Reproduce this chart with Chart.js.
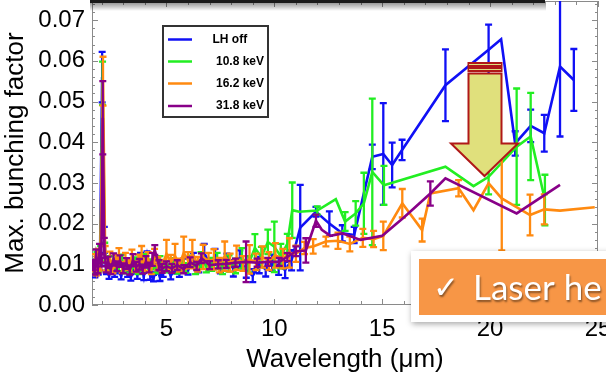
<!DOCTYPE html>
<html><head><meta charset="utf-8">
<script src="https://cdn.jsdelivr.net/npm/chart.js@4.4.1/dist/chart.umd.min.js"></script>
<style>html,body{margin:0;padding:0;background:#fff;}#wrap{width:606px;height:378px;position:relative;}</style>
</head><body><div id="wrap"><canvas id="c" width="606" height="378"></canvas></div>
<script>
// ---------------- data ----------------
const seriesLabels = ['LH off', '10.8 keV', '16.2 keV', '31.8 keV'];
const seriesColors = ['#1010f5', '#22ee22', '#ff8a10', '#880088'];

const blueX = [1.60,1.68,1.76,1.84,1.92,2.02,2.12,2.22,2.34,2.46,2.60,2.75,2.90,3.05,3.20,3.35,3.50,3.65,3.80,3.95,4.10,4.25,4.40,4.55,4.70,4.85,5.00,5.20,5.40,5.60,5.80,6.00,6.25,6.50,6.75,7.00,7.25,7.50,7.80,8.10,8.40,8.70,9.00,9.30,9.60,9.90,10.20,10.50,10.80,11.20,11.93,12.55,13.15,13.70,14.54,15.05,15.46,15.92,17.93,19.93,20.51,21.16,21.88,22.51,23.24,23.88];
const blueY = [0.0092,0.0078,0.0100,0.0084,0.0112,0.0560,0.0160,0.0086,0.0072,0.0096,0.0078,0.0090,0.0071,0.0094,0.0080,0.0068,0.0087,0.0074,0.0108,0.0070,0.0120,0.0072,0.0066,0.0090,0.0068,0.0079,0.0096,0.0072,0.0088,0.0081,0.0099,0.0085,0.0110,0.0092,0.0128,0.0100,0.0118,0.0094,0.0108,0.0090,0.0112,0.0085,0.0072,0.0098,0.0088,0.0104,0.0096,0.0086,0.0110,0.0190,0.0229,0.0200,0.0176,0.0172,0.0364,0.0371,0.0344,0.0381,0.0540,0.0627,0.0653,0.0397,0.0440,0.0422,0.0586,0.0553];
const blueErr = [0.0008,0.0010,0.0012,0.0009,0.0015,0.0062,0.0032,0.0010,0.0008,0.0011,0.0009,0.0012,0.0008,0.0010,0.0011,0.0008,0.0009,0.0010,0.0020,0.0009,0.0012,0.0010,0.0008,0.0011,0.0009,0.0010,0.0012,0.0009,0.0010,0.0012,0.0015,0.0010,0.0018,0.0012,0.0022,0.0015,0.0020,0.0016,0.0018,0.0020,0.0022,0.0018,0.0016,0.0020,0.0018,0.0020,0.0022,0.0020,0.0025,0.0105,0.0012,0.0030,0.0020,0.0020,0.0030,0.0125,0.0055,0.0025,0.0088,0.0062,0,0.0030,0.0040,0.0045,0.0172,0.0076];

const greenX = [1.62,1.70,1.78,1.86,1.95,2.04,2.14,2.24,2.36,2.50,2.65,2.80,2.95,3.10,3.25,3.40,3.55,3.70,3.85,4.00,4.15,4.30,4.50,4.70,4.90,5.10,5.30,5.50,5.70,5.90,6.10,6.35,6.60,6.85,7.10,7.35,7.60,7.90,8.20,8.50,8.80,9.10,9.40,9.70,10.00,10.30,10.60,10.83,11.15,11.99,12.85,13.28,13.77,14.15,14.54,15.08,17.93,19.23,19.93,21.23,21.88,22.54];
const greenY = [0.0100,0.0088,0.0115,0.0092,0.0125,0.0545,0.0130,0.0095,0.0108,0.0090,0.0102,0.0093,0.0110,0.0088,0.0098,0.0091,0.0104,0.0086,0.0096,0.0110,0.0092,0.0100,0.0088,0.0106,0.0094,0.0090,0.0102,0.0088,0.0096,0.0091,0.0106,0.0090,0.0112,0.0095,0.0100,0.0108,0.0094,0.0102,0.0096,0.0115,0.0100,0.0140,0.0118,0.0155,0.0143,0.0120,0.0150,0.0233,0.0229,0.0232,0.0260,0.0205,0.0225,0.0250,0.0327,0.0294,0.0340,0.0292,0.0315,0.0389,0.0414,0.0258];
const greenErr = [0.0010,0.0012,0.0015,0.0010,0.0020,0.0053,0.0023,0.0010,0.0012,0.0010,0.0012,0.0010,0.0014,0.0010,0.0012,0.0010,0.0013,0.0010,0.0012,0.0015,0.0010,0.0012,0.0010,0.0014,0.0012,0.0010,0.0013,0.0011,0.0012,0.0012,0.0015,0.0014,0.0018,0.0015,0.0016,0.0020,0.0018,0.0020,0.0018,0.0025,0.0020,0.0034,0.0025,0.0030,0.0062,0.0030,0.0025,0.0068,0,0.0010,0,0.0023,0.0030,0.0075,0.0180,0.0048,0,0,0.0043,0.0143,0.0107,0.0062];

const orangeX = [1.60,1.68,1.76,1.84,1.93,2.06,2.16,2.26,2.38,2.52,2.66,2.80,2.95,3.10,3.25,3.40,3.55,3.70,3.85,4.00,4.15,4.30,4.45,4.60,4.80,5.00,5.20,5.40,5.60,5.80,6.00,6.20,6.45,6.70,6.95,7.20,7.45,7.70,7.95,8.25,8.55,8.85,9.15,9.45,9.75,10.05,10.40,10.70,11.00,11.40,11.80,12.39,12.95,13.50,14.10,14.60,15.05,15.93,16.85,17.23,18.54,19.23,19.93,20.54,21.85,22.51,23.24,24.85];
const orangeY = [0.0095,0.0110,0.0085,0.0120,0.0100,0.0550,0.0125,0.0098,0.0115,0.0090,0.0108,0.0122,0.0092,0.0112,0.0100,0.0118,0.0094,0.0108,0.0125,0.0098,0.0112,0.0090,0.0118,0.0102,0.0096,0.0126,0.0105,0.0120,0.0098,0.0128,0.0110,0.0125,0.0100,0.0118,0.0108,0.0112,0.0098,0.0120,0.0104,0.0116,0.0102,0.0112,0.0106,0.0118,0.0108,0.0122,0.0114,0.0128,0.0126,0.0140,0.0144,0.0156,0.0158,0.0150,0.0165,0.0162,0.0170,0.0250,0.0184,0.0274,0.0287,0.0233,0.0299,0.0262,0.0221,0.0235,0.0232,0.0240];
const orangeErr = [0.0012,0.0015,0.0012,0.0018,0.0015,0.0060,0.0020,0.0014,0.0016,0.0012,0.0015,0.0018,0.0013,0.0016,0.0014,0.0018,0.0013,0.0016,0.0020,0.0014,0.0018,0.0014,0.0020,0.0016,0.0015,0.0034,0.0018,0.0030,0.0016,0.0040,0.0020,0.0035,0.0018,0.0030,0.0020,0.0025,0.0018,0.0036,0.0022,0.0030,0.0018,0.0035,0.0020,0.0026,0.0022,0.0030,0.0024,0.0036,0.0020,0.0015,0.0018,0.0012,0.0020,0.0018,0.0022,0.0020,0.0035,0.0035,0.0028,0,0.0020,0,0,0.0128,0.0050,0.0037,0,0];

const purpleX = [1.60,1.67,1.74,1.82,1.90,1.98,2.05,2.12,2.20,2.30,2.42,2.55,2.70,2.85,3.00,3.15,3.30,3.45,3.60,3.75,3.90,4.05,4.20,4.35,4.46,4.65,4.80,5.00,5.25,5.50,5.80,6.10,6.40,6.62,7.00,7.40,7.77,8.20,8.69,9.20,9.70,10.23,10.60,11.00,11.46,11.93,12.20,12.60,13.15,14.00,15.00,16.00,17.23,17.93,21.23,23.24];
const purpleY = [0.0098,0.0085,0.0120,0.0090,0.0130,0.0110,0.0460,0.0140,0.0092,0.0105,0.0088,0.0112,0.0095,0.0108,0.0090,0.0102,0.0086,0.0110,0.0094,0.0100,0.0088,0.0106,0.0092,0.0112,0.0135,0.0098,0.0090,0.0095,0.0090,0.0098,0.0088,0.0105,0.0096,0.0115,0.0098,0.0100,0.0101,0.0104,0.0106,0.0104,0.0106,0.0106,0.0118,0.0132,0.0134,0.0207,0.0185,0.0170,0.0176,0.0160,0.0170,0.0215,0.0274,0.0311,0.0225,0.0295];
const purpleErr = [0.0012,0.0010,0.0016,0.0012,0.0020,0.0015,0.0090,0.0025,0.0012,0.0014,0.0012,0.0015,0.0012,0.0014,0.0012,0.0013,0.0011,0.0015,0.0012,0.0013,0.0011,0.0014,0.0012,0.0016,0.0012,0.0012,0.0011,0.0012,0.0011,0.0012,0.0010,0.0012,0.0010,0.0012,0.0010,0.0010,0.0010,0.0010,0.0050,0.0010,0.0010,0.0010,0.0010,0.0012,0.0030,0.0015,0,0,0,0,0,0,0.0030,0,0,0];

const xTickLabels = ['5', '10', '15', '20', '25'];
const yTickLabels = ['0.00', '0.01', '0.02', '0.03', '0.04', '0.05', '0.06', '0.07'];

// --------------- build ---------------
const xs = [blueX, greenX, orangeX, purpleX];
const ys = [blueY, greenY, orangeY, purpleY];
const es = [blueErr, greenErr, orangeErr, purpleErr];
const datasets = seriesLabels.map((lab, k) => ({
  label: lab,
  data: xs[k].map((x, i) => ({x: x, y: ys[k][i]})),
  errors: es[k],
  borderColor: seriesColors[k],
  backgroundColor: seriesColors[k],
  borderWidth: 2.6,
  pointRadius: 0,
  showLine: true,
  tension: 0,
  order: 4 - k
}));

const FONT = '"Liberation Sans", Arial, sans-serif';

const framePlugin = {
  id: 'frame',
  beforeDatasetsDraw(chart) {
    const {ctx, chartArea: a, scales: {x, y}} = chart;
    ctx.save();
    ctx.strokeStyle = '#8a8a8a';
    ctx.lineWidth = 1;
    ctx.strokeRect(a.left + 0.5, a.top + 0.5, a.right - a.left - 1, a.bottom - a.top - 1);
    ctx.beginPath();
    for (let v = 2; v <= 25; v++) {
      const p = Math.round(x.getPixelForValue(v)) + 0.5;
      const L = (v % 5 === 0) ? 6 : 4;
      ctx.moveTo(p, a.bottom); ctx.lineTo(p, a.bottom - L);
      ctx.moveTo(p, a.top); ctx.lineTo(p, a.top + L);
    }
    for (let k = 0; k <= 37; k++) {
      const v = k * 0.002;
      const p = Math.round(y.getPixelForValue(v)) + 0.5;
      const L = (k % 5 === 0) ? 6 : 3;
      ctx.moveTo(a.left, p); ctx.lineTo(a.left + L, p);
      ctx.moveTo(a.right, p); ctx.lineTo(a.right - L, p);
    }
    ctx.stroke();
    ctx.restore();
  }
};

const errPlugin = {
  id: 'errbars',
  afterDatasetDraw(chart, args) {
    const ds = chart.data.datasets[args.index];
    if (!ds.errors) return;
    const {ctx, chartArea: a, scales: {x, y}} = chart;
    ctx.save();
    ctx.beginPath();
    ctx.rect(a.left, a.top, a.right - a.left, a.bottom - a.top);
    ctx.clip();
    ctx.strokeStyle = ds.borderColor;
    ctx.lineWidth = 2.3;
    ctx.beginPath();
    ds.data.forEach((p, i) => {
      const e = ds.errors[i];
      if (!e) return;
      const px = x.getPixelForValue(p.x);
      const y1 = y.getPixelForValue(p.y + e);
      const y2 = y.getPixelForValue(p.y - e);
      ctx.moveTo(px, y1); ctx.lineTo(px, y2);
      ctx.moveTo(px - 3.5, y1); ctx.lineTo(px + 3.5, y1);
      ctx.moveTo(px - 3.5, y2); ctx.lineTo(px + 3.5, y2);
    });
    ctx.stroke();
    ctx.restore();
  }
};

const overlayPlugin = {
  id: 'overlay',
  afterDraw(chart) {
    const ctx = chart.ctx;
    // legend box
    ctx.save();
    ctx.fillStyle = '#fff';
    ctx.fillRect(163, 26, 105, 91);
    ctx.strokeStyle = '#333';
    ctx.lineWidth = 2;
    ctx.strokeRect(163, 26, 105, 91);
    const ly = [39.5, 61.5, 83.5, 106];
    const lx = [212.5, 216, 216, 216];
    ctx.font = 'bold 12px ' + FONT;
    ctx.textBaseline = 'middle';
    chart.data.datasets.forEach((ds, i) => {
      ctx.strokeStyle = ds.borderColor;
      ctx.lineWidth = 2.5;
      ctx.beginPath(); ctx.moveTo(168, ly[i]); ctx.lineTo(192, ly[i]); ctx.stroke();
      ctx.fillStyle = '#000';
      ctx.fillText(ds.label, lx[i], ly[i]);
    });
    ctx.restore();

    // top dark edge with shadow
    ctx.save();
    const g = ctx.createLinearGradient(0, 2, 0, 11);
    g.addColorStop(0, 'rgba(0,0,0,0.45)');
    g.addColorStop(1, 'rgba(0,0,0,0)');
    ctx.fillStyle = g;
    ctx.fillRect(90, 2, 456, 9);
    ctx.fillStyle = '#1a1a1a';
    ctx.fillRect(90, 0, 455, 3);
    ctx.restore();

    // arrow
    ctx.save();
    ctx.fillStyle = '#e0e07c';
    ctx.strokeStyle = '#b01818';
    ctx.lineWidth = 2;
    ctx.lineJoin = 'miter';
    ctx.fillRect(468.5, 63, 33, 3); ctx.strokeRect(468.5, 63, 33, 3);
    ctx.fillRect(468.5, 68, 33, 3); ctx.strokeRect(468.5, 68, 33, 3);
    ctx.beginPath();
    ctx.moveTo(468.5, 73.5); ctx.lineTo(501.5, 73.5); ctx.lineTo(501.5, 143.5);
    ctx.lineTo(518, 143.5); ctx.lineTo(484.5, 176); ctx.lineTo(451, 143.5);
    ctx.lineTo(468.5, 143.5); ctx.closePath();
    ctx.fill(); ctx.stroke();
    ctx.restore();

    // laser heating box
    ctx.save();
    ctx.shadowColor = 'rgba(0,0,0,0.35)';
    ctx.shadowBlur = 6; ctx.shadowOffsetX = 1; ctx.shadowOffsetY = 2;
    ctx.fillStyle = '#ffffff';
    ctx.fillRect(411, 251, 200, 71);
    ctx.shadowColor = 'rgba(0,0,0,0)';
    ctx.fillStyle = '#f79646';
    ctx.fillRect(419, 259, 190, 56);
    ctx.shadowColor = 'rgba(0,0,0,0.45)';
    ctx.shadowBlur = 2; ctx.shadowOffsetX = 1; ctx.shadowOffsetY = 1.5;
    ctx.fillStyle = '#fff';
    ctx.textBaseline = 'alphabetic';
    ctx.font = '31px "DejaVu Sans"';
    ctx.fillText('\u2713', 433, 298);
    ctx.font = '35px Lato, "Open Sans", sans-serif';
    ctx.fillText('Laser he', 473, 300);
    ctx.restore();
  }
};

new Chart(document.getElementById('c'), {
  type: 'scatter',
  data: {datasets: datasets},
  options: {
    responsive: false,
    animation: false,
    devicePixelRatio: 1,
    layout: {padding: {left: 0, right: 8, top: 1, bottom: 0}},
    plugins: {legend: {display: false}, tooltip: {enabled: false}},
    scales: {
      x: {
        type: 'linear', min: 1.55, max: 25,
        grid: {display: false, drawTicks: false},
        border: {display: false},
        ticks: {
          stepSize: 1, autoSkip: false, maxRotation: 0, padding: 10, color: '#000',
          font: {family: FONT, size: 24},
          callback: (v) => { const s = String(Math.round(v)); return (Math.abs(v % 5) < 1e-6 && xTickLabels.includes(s)) ? s : ''; }
        },
        title: {display: true, text: 'Wavelength (μm)', color: '#000', font: {family: FONT, size: 26}, padding: {top: 0, bottom: 3}},
        afterFit(s) { s.height = 73; s.paddingLeft = 0; s.paddingRight = 0; }
      },
      y: {
        type: 'linear', min: 0, max: 0.0747,
        grid: {display: false, drawTicks: false},
        border: {display: false},
        ticks: {
          stepSize: 0.01, includeBounds: false, padding: 7, color: '#000',
          font: {family: FONT, size: 24},
          callback: (v) => { const i = Math.round(v * 100); return yTickLabels[i] !== undefined ? yTickLabels[i] : ''; }
        },
        title: {display: true, text: 'Max. bunching factor', color: '#000', font: {family: FONT, size: 26}, padding: {top: 0, bottom: 0}},
        afterFit(s) { s.width = 92; s.paddingTop = 0; s.paddingBottom = 0; }
      }
    }
  },
  plugins: [framePlugin, errPlugin, overlayPlugin]
});
</script></body></html>
